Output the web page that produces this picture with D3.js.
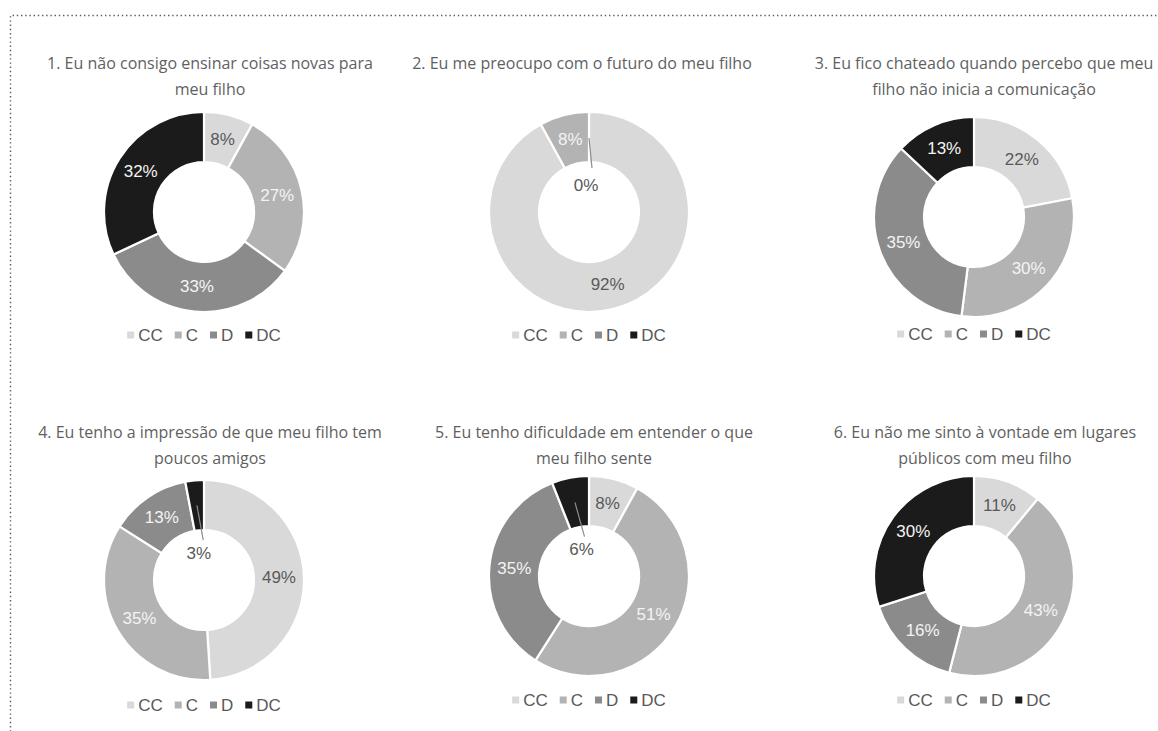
<!DOCTYPE html>
<html>
<head>
<meta charset="utf-8">
<script src="https://cdn.jsdelivr.net/npm/d3@7"></script>
<style>
  html, body { margin: 0; padding: 0; background: #ffffff; }
  svg { display: block; }
</style>
</head>
<body>
<svg id="chart" width="1158" height="731"></svg>
<script>
// Response categories (legend order, also clockwise slice order)
const categories = ["CC", "C", "D", "DC"];

// Question titles, already split into lines
const titles = [
  ["1. Eu não consigo ensinar coisas novas para", "meu filho"],
  ["2. Eu me preocupo com o futuro do meu filho"],
  ["3. Eu fico chateado quando percebo que meu", "filho não inicia a comunicação"],
  ["4. Eu tenho a impressão de que meu filho tem", "poucos amigos"],
  ["5. Eu tenho dificuldade em entender o que", "meu filho sente"],
  ["6. Eu não me sinto à vontade em lugares", "públicos com meu filho"]
];

// Percentages per question, in category order
const q1 = [8, 27, 33, 32];
const q2 = [92, 8, 0, 0];
const q3 = [22, 30, 35, 13];
const q4 = [49, 35, 13, 3];
const q5 = [8, 51, 35, 6];
const q6 = [11, 43, 16, 30];
const seriesValues = [q1, q2, q3, q4, q5, q6];

// ---- layout ----
const panels = [
  { cx: 204, cy: 212, tx: 210, ty: 63,  ly: 335 },
  { cx: 589, cy: 212, tx: 582, ty: 63,  ly: 335 },
  { cx: 974, cy: 217, tx: 984, ty: 63,  ly: 334 },
  { cx: 204, cy: 580, tx: 210, ty: 432, ly: 705 },
  { cx: 589, cy: 576, tx: 594, ty: 432, ly: 700 },
  { cx: 974, cy: 576, tx: 985, ty: 432, ly: 700 }
];
const outerR = 100, innerR = 50;
const lineGap = 26;

const color = d3.scaleOrdinal()
  .domain(categories)
  .range(["#d9d9d9", "#b3b3b3", "#8b8b8b", "#1b1b1b"]);
const labelColor = d3.scaleOrdinal()
  .domain(categories)
  .range(["#595959", "#f4f4f4", "#f4f4f4", "#f4f4f4"]);

const svg = d3.select("#chart");

// dotted frame
svg.append("path")
  .attr("d", "M10.5,740 L10.5,15.5 L1170,15.5")
  .attr("fill", "none")
  .attr("stroke", "#5a5a5a")
  .attr("stroke-width", 1.4)
  .attr("stroke-dasharray", "1.4,2.8");

const pie = d3.pie().sort(null).value(d => d.value);
const arc = d3.arc().innerRadius(innerR).outerRadius(outerR);
const labelArc = d3.arc().innerRadius((innerR + outerR) / 2).outerRadius((innerR + outerR) / 2);

const titleFont = "'Open Sans', 'Noto Sans', sans-serif";
const dataFont = "'Liberation Sans', Arial, sans-serif";

seriesValues.forEach((vals, i) => {
  const p = panels[i];
  const g = svg.append("g");

  // title
  const t = g.append("text")
    .attr("x", p.tx)
    .attr("text-anchor", "middle")
    .attr("font-family", titleFont)
    .attr("font-size", 16)
    .attr("fill", "#5f5f5f");
  titles[i].forEach((line, k) => {
    t.append("tspan")
      .attr("x", p.tx)
      .attr("y", p.ty + k * lineGap)
      .attr("dy", "0.35em")
      .text(line);
  });

  const data = categories.map((c, k) => ({ cat: c, value: vals[k] }));
  const arcs = pie(data);

  const donut = g.append("g").attr("transform", `translate(${p.cx},${p.cy})`);

  donut.selectAll("path.slice")
    .data(arcs.filter(a => a.data.value > 0))
    .join("path")
    .attr("class", "slice")
    .attr("d", arc)
    .attr("fill", a => color(a.data.cat))
    .attr("stroke", "#ffffff")
    .attr("stroke-width", 2.2)
    .attr("stroke-linejoin", "miter");

  // data labels: small slices get a leader line into the hole
  let zeroShown = false;
  arcs.forEach(a => {
    const v = a.data.value;
    if (v === 0) {
      if (zeroShown) return;
      zeroShown = true;
    }
    const mid = (a.startAngle + a.endAngle) / 2;
    if (v < 7) {
      const [sx, sy] = labelArc.centroid(a);
      const rEnd = v === 0 ? 44 : 40;
      const ex = Math.sin(mid) * rEnd + 3, ey = -Math.cos(mid) * rEnd;
      const lx = Math.sin(mid) * 24 - 3, ly = -Math.cos(mid) * 24 - 3;
      donut.append("line")
        .attr("x1", sx).attr("y1", v === 0 ? -outerR * 0.74 : sy)
        .attr("x2", ex).attr("y2", ey)
        .attr("stroke", "#8c8c8c")
        .attr("stroke-width", 1.2);
      donut.append("text")
        .attr("x", lx).attr("y", ly)
        .attr("text-anchor", "middle")
        .attr("dominant-baseline", "central")
        .attr("font-family", dataFont)
        .attr("font-size", 17)
        .attr("fill", "#595959")
        .text(v + "%");
    } else {
      const [x, y] = labelArc.centroid(a);
      donut.append("text")
        .attr("x", x).attr("y", y)
        .attr("text-anchor", "middle")
        .attr("dominant-baseline", "central")
        .attr("font-family", dataFont)
        .attr("font-size", 17)
        .attr("fill", labelColor(a.data.cat))
        .text(v + "%");
    }
  });

  // legend, centred under the donut
  const leg = g.append("g");
  let x = 0;
  const items = [];
  categories.forEach(c => {
    const it = leg.append("g");
    it.append("rect")
      .attr("x", 0).attr("y", -3.5)
      .attr("width", 7).attr("height", 7)
      .attr("fill", color(c));
    const tx = it.append("text")
      .attr("x", 11)
      .attr("dominant-baseline", "central")
      .attr("font-family", dataFont)
      .attr("font-size", 17)
      .attr("fill", "#595959")
      .text(c);
    const w = 11 + tx.node().getComputedTextLength();
    items.push({ it, x, w });
    x += w + 12;
  });
  const total = x - 12;
  items.forEach(d => d.it.attr("transform", `translate(${d.x},0)`));
  leg.attr("transform", `translate(${p.cx - total / 2},${p.ly})`);
});
</script>
</body>
</html>
